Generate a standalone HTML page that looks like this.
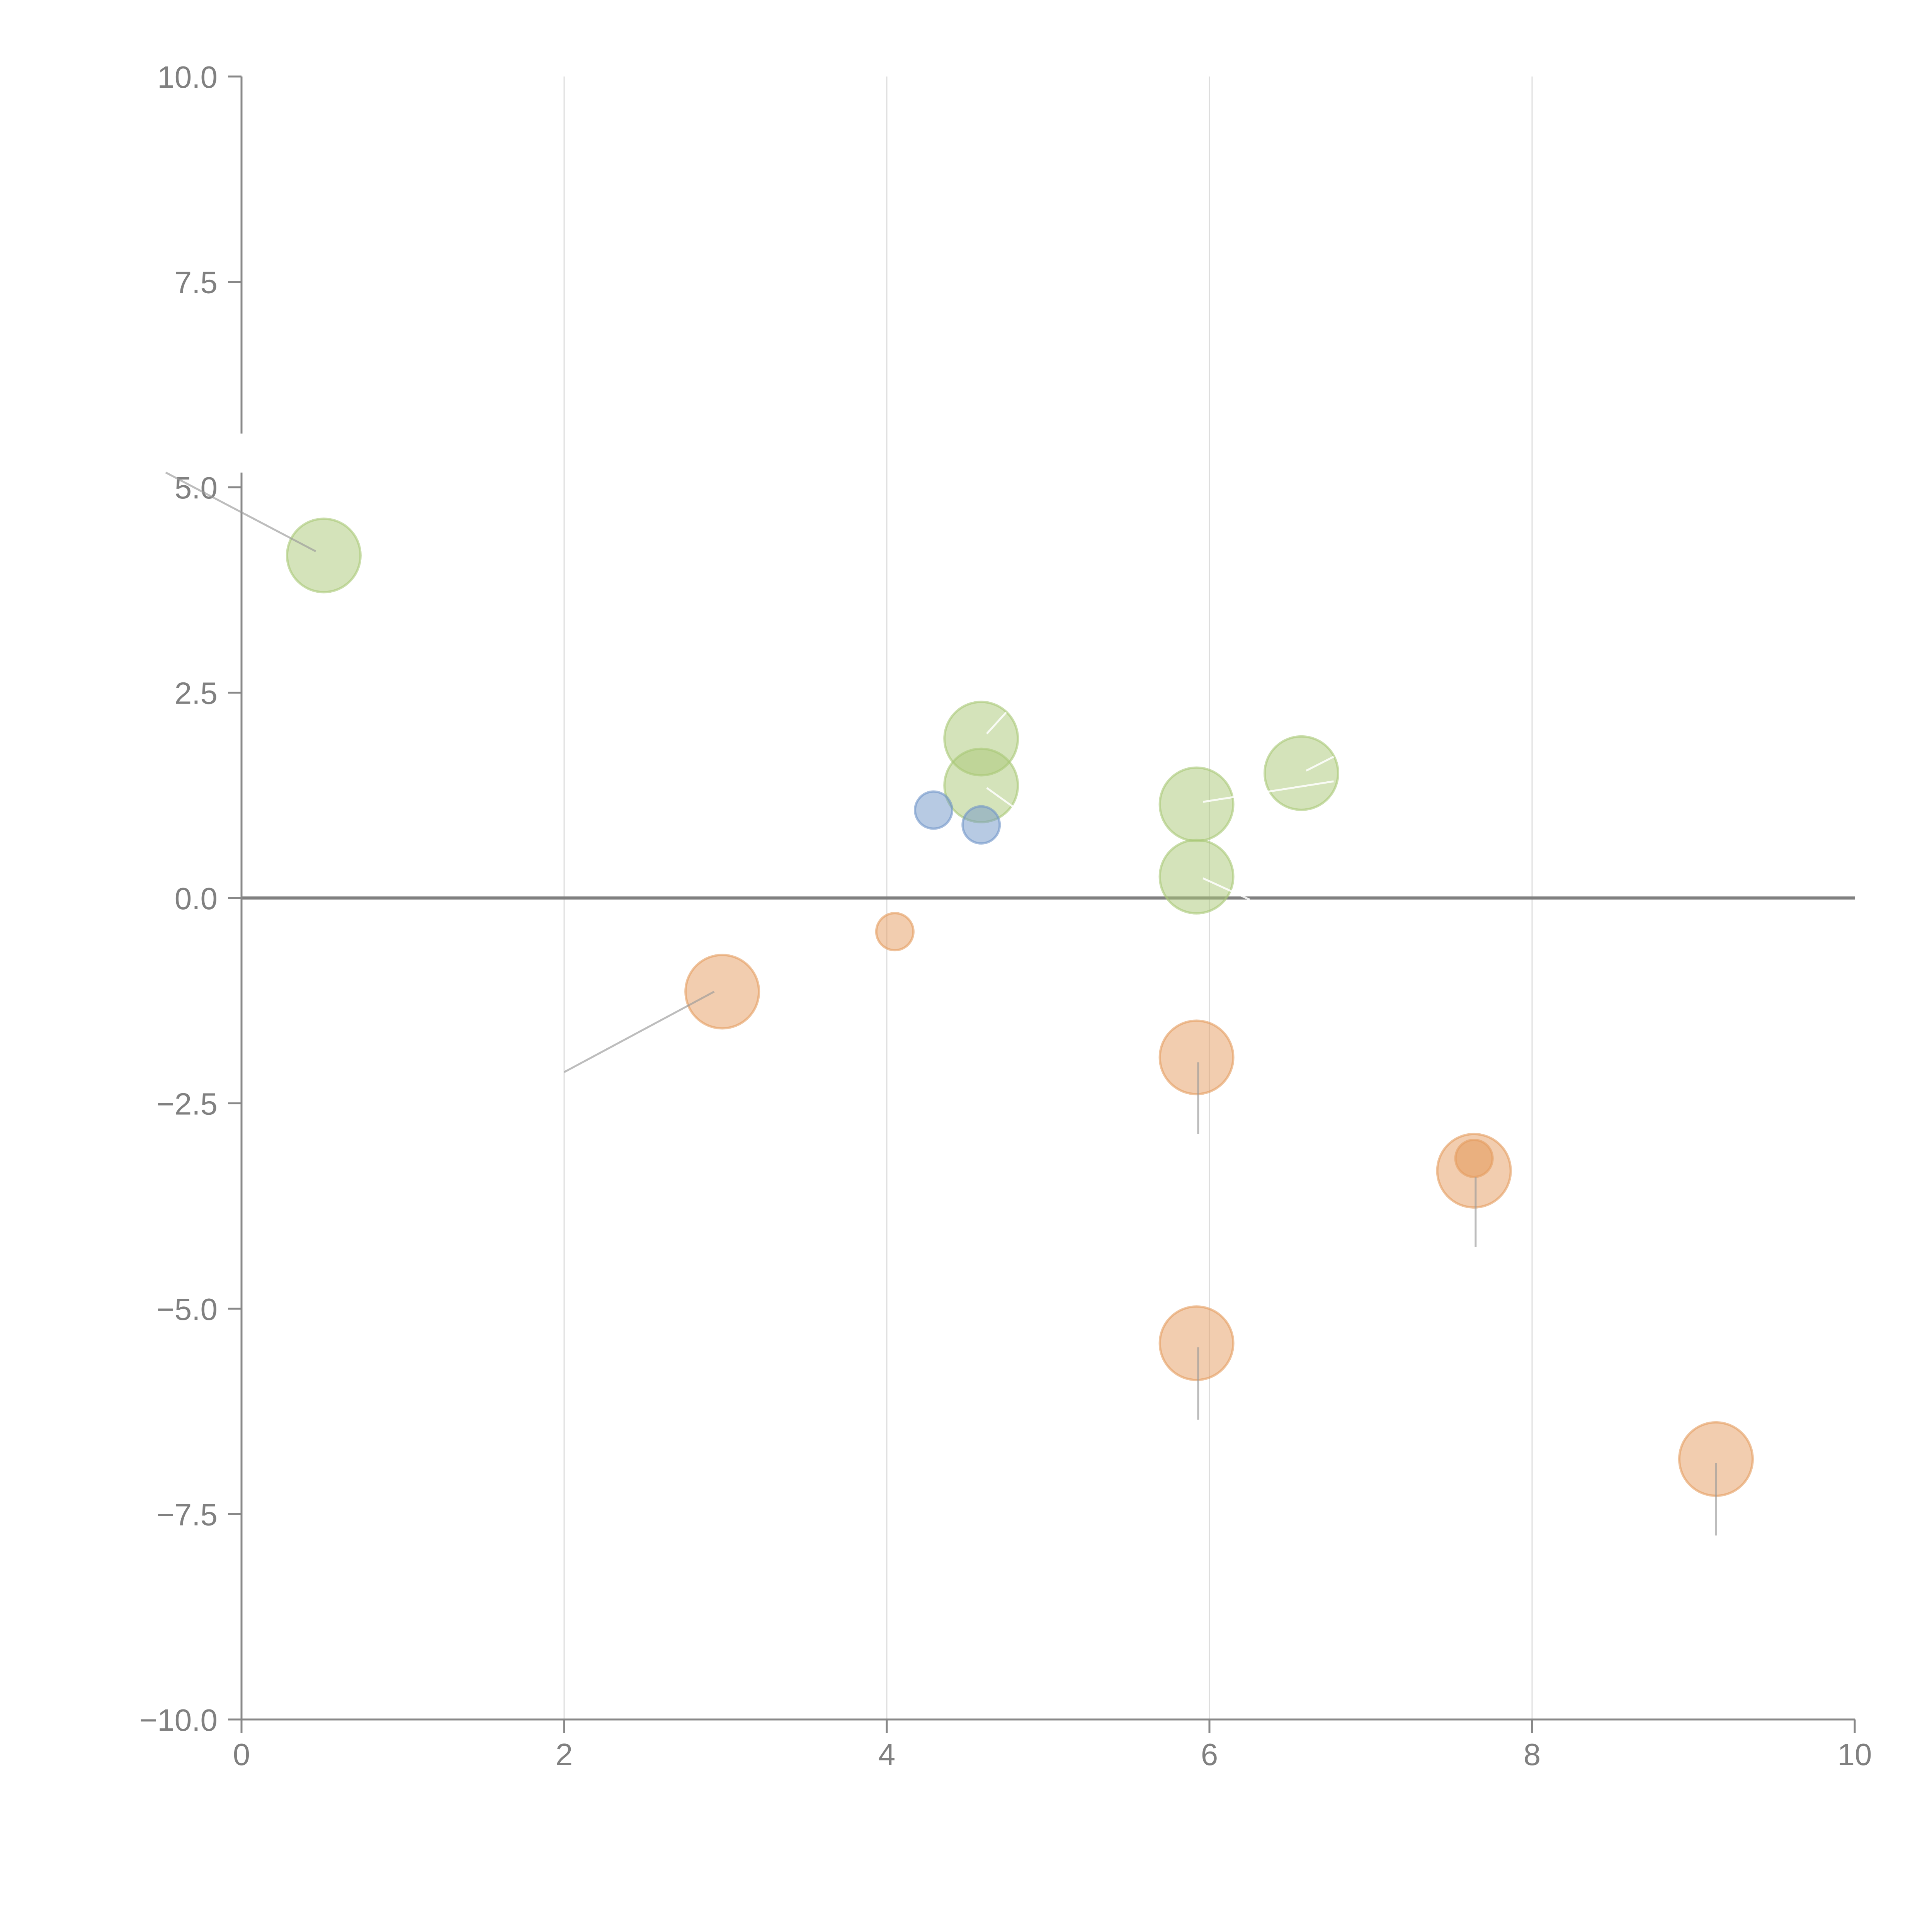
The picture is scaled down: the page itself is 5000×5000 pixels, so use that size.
<!DOCTYPE html>
<html><head><meta charset="utf-8"><style>html,body{margin:0;padding:0;background:#fff}svg{display:block}</style></head>
<body>
<svg id="chart" width="5000" height="5000" viewBox="0 0 5000 5000" xmlns="http://www.w3.org/2000/svg" font-family="'Liberation Sans', sans-serif"></svg>
<script>
const xTicks=[0,2,4,6,8,10];
const xTickLabels=['0','2','4','6','8','10'];
const yTicks=[-10,-7.5,-5,-2.5,0,2.5,5,7.5,10];
const yTickLabels=['\u221210.0','\u22127.5','\u22125.0','\u22122.5','0.0','2.5','5.0','7.5','10.0'];
const pointX=[0.51,4.585,4.585,5.92,5.92,6.57,4.29,4.585,4.05,2.98,5.92,7.64,7.64,5.92,9.14];
const pointY=[4.17,1.94,1.37,1.14,0.26,1.52,1.07,0.89,-0.41,-1.14,-1.94,-3.32,-3.17,-5.42,-6.83];
const pointSize=[2,2,2,2,2,2,1,1,1,2,2,2,1,2,2];
const pointGroup=['g','g','g','g','g','g','b','b','o','o','o','o','o2','o','o'];
const leaderX1=[0.46,2.93,5.93,7.65,5.93,9.14];
const leaderY1=[4.22,-1.14,-2.0,-3.40,-5.47,-6.88];
const leaderX2=[-0.47,2.0,5.93,7.65,5.93,9.14];
const leaderY2=[5.18,-2.12,-2.87,-4.25,-6.35,-7.76];
const whiteX1=[4.62,4.62,5.96,6.6,5.96];
const whiteY1=[2.0,1.34,1.17,1.55,0.24];
const whiteX2=[4.74,4.79,6.77,6.77,6.25];
const whiteY2=[2.26,1.1,1.42,1.72,-0.02];

const X0=625,X1=4800,Y0=4450,Y1=198;
const sx=v=>X0+(v-0)/(10-0)*(X1-X0);
const sy=v=>Y0-(v+10)/20*(Y0-Y1);
const svg=document.getElementById('chart');
const NS='http://www.w3.org/2000/svg';
function mk(tag,attrs){const e=document.createElementNS(NS,tag);for(const k in attrs)e.setAttribute(k,attrs[k]);svg.appendChild(e);return e;}

xTicks.forEach((t,i)=>{if(t===0||t===10)return;
 const l=mk('line',{x1:sx(t),x2:sx(t),y1:Y1,y2:Y0,stroke:'#dddddd','stroke-width':3});
 
 });
const z=mk('line',{x1:X0,x2:X1,y1:sy(0),y2:sy(0),stroke:'#808080','stroke-width':8});


const ya=mk('path',{d:`M${X0},${Y1} V1122 M${X0},1223 V${Y0}`,stroke:'#888','stroke-width':5,fill:'none'});


const xa=mk('line',{x1:X0,x2:X1,y1:Y0,y2:Y0,stroke:'#888','stroke-width':5});


yTicks.forEach((t,i)=>{
 const tk=mk('line',{x1:X0-35,x2:X0,y1:sy(t),y2:sy(t),stroke:'#888','stroke-width':5});
 
 
 const tx=mk('text',{x:X0-62,y:sy(t)+29,'text-anchor':'end','font-size':80,fill:'#808080'});
 tx.textContent=yTickLabels[i];
 
 });
xTicks.forEach((t,i)=>{
 const tk=mk('line',{x1:sx(t),x2:sx(t),y1:Y0,y2:Y0+35,stroke:'#888','stroke-width':5});
 
 
 const tx=mk('text',{x:sx(t),y:4568,'text-anchor':'middle','font-size':80,fill:'#808080'});
 tx.textContent=xTickLabels[i];
 
 });
const colors={g:'#a9c876',b:'#6f95c8',o:'#e59c5f',o2:'#e59c5f'};
pointX.forEach((v,i)=>{
 const r=pointSize[i]===2?95:48;
 const c=colors[pointGroup[i]];
 const op=pointGroup[i]==='o2'?0.6:0.5;
 const ci=mk('circle',{cx:sx(v),cy:sy(pointY[i]),r:r,fill:c,'fill-opacity':op,stroke:c,'stroke-opacity':0.6,'stroke-width':6});
 
 });
leaderX1.forEach((v,i)=>{
 const l=mk('line',{x1:sx(v),y1:sy(leaderY1[i]),x2:sx(leaderX2[i]),y2:sy(leaderY2[i]),stroke:'#999','stroke-opacity':0.65,'stroke-width':5});
 
 });
whiteX1.forEach((v,i)=>{
 const l=mk('line',{x1:sx(v),y1:sy(whiteY1[i]),x2:sx(whiteX2[i]),y2:sy(whiteY2[i]),stroke:'#ffffff','stroke-opacity':0.85,'stroke-width':5});
 
 });
</script>
</body></html>
